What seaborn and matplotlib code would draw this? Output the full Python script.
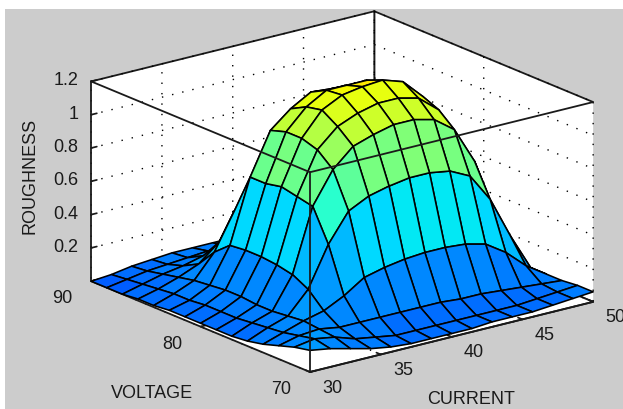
import numpy as np
import matplotlib
matplotlib.use("Agg")
import matplotlib.pyplot as plt
import seaborn as sns
from matplotlib.colors import ListedColormap, Normalize
from matplotlib.patches import Rectangle
from mpl_toolkits.mplot3d import proj3d

current_ticks = [30, 35, 40, 45, 50]
voltage_ticks = [70, 80, 90]
rough_ticks = [0.2, 0.4, 0.6, 0.8, 1.0, 1.2]
rough_labels = ["0.2", "0.4", "0.6", "0.8", "1", "1.2"]

# rows: voltage 70 -> 90, columns: current 30 -> 50
r00 = [.13,.11,.08,.05,.03,.02,.02,.02,.02,.03,.03,.03,.04,.05,.06]
r01 = [.11,.13,.11,.07,.05,.03,.03,.03,.03,.03,.03,.03,.04,.05,.06]
r02 = [.08,.11,.12,.10,.10,.10,.10,.10,.10,.09,.09,.08,.07,.06,.05]
r03 = [.05,.09,.13,.16,.22,.30,.33,.35,.36,.36,.35,.32,.24,.13,.05]
r04 = [.03,.08,.12,.25,.49,.66,.72,.75,.77,.77,.75,.69,.52,.27,.05]
r05 = [.02,.07,.11,.30,.68,.87,.98,1.02,1.05,1.05,1.02,.93,.71,.37,.05]
r06 = [.02,.06,.11,.32,.70,.95,1.06,1.11,1.14,1.14,1.11,1.01,.78,.41,.06]
r07 = [.02,.06,.12,.33,.72,.98,1.12,1.18,1.20,1.21,1.17,1.05,.80,.42,.06]
r08 = [.02,.06,.12,.33,.70,.98,1.10,1.17,1.17,1.17,1.12,1.00,.78,.41,.06]
r09 = [.02,.05,.11,.32,.70,.95,1.05,1.12,1.11,1.10,1.03,.94,.72,.38,.05]
r10 = [.01,.05,.10,.24,.46,.62,.70,.73,.75,.75,.73,.67,.51,.27,.05]
r11 = [.01,.04,.08,.13,.23,.32,.35,.37,.38,.38,.37,.34,.26,.14,.04]
r12 = [.00,.03,.06,.08,.11,.13,.14,.15,.15,.15,.15,.13,.10,.07,.04]
r13 = [.00,.02,.04,.05,.06,.07,.07,.07,.07,.07,.07,.07,.06,.05,.04]
r14 = [.00,.01,.03,.04,.05,.05,.05,.05,.05,.05,.05,.05,.05,.05,.05]
roughness = np.array([r00,r01,r02,r03,r04,r05,r06,r07,r08,r09,r10,r11,r12,r13,r14])

current = np.linspace(current_ticks[0], current_ticks[-1], 15)
voltage = np.linspace(voltage_ticks[0], voltage_ticks[-1], 15)
X, Y = np.meshgrid(current, voltage)

sns.set_theme(style="white")
plt.rcParams["font.family"] = ["Liberation Sans", "DejaVu Sans"]
BG = "#cccccc"
INK = "#1a1a1a"

W, H = 623, 409
fig = plt.figure(figsize=(W/100, H/100), dpi=100, facecolor="white")
fig.add_artist(Rectangle((5/W, 0), 1 - 5/W, 1 - 9/H, transform=fig.transFigure,
                         facecolor=BG, edgecolor="none", zorder=-5))
ax = fig.add_axes([0, 0, 1, 1], projection="3d", proj_type="ortho",
                  computed_zorder=False)
ax.patch.set_alpha(0)
ax.view_init(elev=18.7, azim=-127.7)
ax.set_box_aspect((358, 358, 211))
ax.set_xlim(30, 50, view_margin=0)
ax.set_ylim(70, 90, view_margin=0)
ax.set_zlim(0, 1.2, view_margin=0)

cmap = ListedColormap(sns.mpl_palette("jet", 64))
norm = Normalize(-0.589, 2.11)
ax.plot_surface(X, Y, roughness, rstride=1, cstride=1,
                facecolors=cmap(norm(roughness)), shade=False,
                edgecolor="black", linewidth=1.15, antialiased=True, zorder=3)

# front edges of the box, drawn over the surface
x0, x1, y0, y1, z0, z1 = 30, 50, 70, 90, 0, 1.2
kw = dict(color=INK, lw=1.3, zorder=5)
ax.plot([x0, x0], [y1, y0], [z1, z1], **kw)
ax.plot([x0, x1], [y0, y0], [z1, z1], **kw)
ax.plot([x0, x0], [y0, y0], [z0, z1], **kw)

for axis in (ax.xaxis, ax.yaxis, ax.zaxis):
    axis.set_pane_color((1, 1, 1, 1))
    axis.pane.set_edgecolor(INK)
    axis.pane.set_linewidth(1.3)
    axis.line.set_color(INK)
    axis.line.set_linewidth(1.3)
    axis._axinfo["grid"].update(color="black", linewidth=1.0, linestyle=(0, (1, 6.5)))
    axis._axinfo["tick"].update(inward_factor=0.0, outward_factor=0.25)

ax.set_xticks(current_ticks)
ax.set_yticks(voltage_ticks)
ax.set_zticks(rough_ticks)
ax.set_zticklabels(rough_labels)
ax.tick_params(axis="x", labelsize=13, colors=INK, pad=3)
ax.tick_params(axis="y", labelsize=13, colors=INK, pad=5)
ax.tick_params(axis="z", labelsize=13, colors=INK, pad=-3)
for t in ax.get_zticklabels():
    t.set_ha("right")
    t.set_va("center")
for t in ax.get_yticklabels():
    t.set_ha("right")
    t.set_va("center")
for t in ax.get_xticklabels():
    t.set_ha("left")
    t.set_va("center")

ax.set_xlabel("")
ax.set_ylabel("")
ax.set_zlabel("")
label_kw = dict(fontsize=13, color=INK, ha="center", va="center")
fig.text(471 / W, 1 - 399 / H, "CURRENT", **label_kw)
fig.text(152 / W, 1 - 393 / H, "VOLTAGE", **label_kw)
fig.text(30 / W, 1 - 176 / H, "ROUGHNESS", rotation=90, **label_kw)

# place the box so that its corners land where the reference has them
def corner(px, py, pz):
    a, b, _ = proj3d.proj_transform(px, py, pz, ax.get_proj())
    return ax.transData.transform((a, b))

for _ in range(3):
    fig.canvas.draw()
    front = corner(x0, y0, z0)
    left = corner(x0, y1, z0)
    right = corner(x1, y0, z0)
    s = (593 - 91) / (right[0] - left[0])
    p = ax.get_position(original=True)
    bb = np.array([p.x0 * W, p.y0 * H, p.width * W, p.height * H])
    cx, cy = bb[0] + bb[2] / 2, bb[1] + bb[3] / 2
    fx, fy = cx + (front[0] - cx) * s, cy + (front[1] - cy) * s
    tx, ty = 310, H - 372
    nw, nh = bb[2] * s, bb[3] * s
    ncx, ncy = cx + tx - fx, cy + ty - fy
    ax.set_position([(ncx - nw / 2) / W, (ncy - nh / 2) / H, nw / W, nh / H])

fig.savefig("out.png", dpi=100, facecolor="white")
